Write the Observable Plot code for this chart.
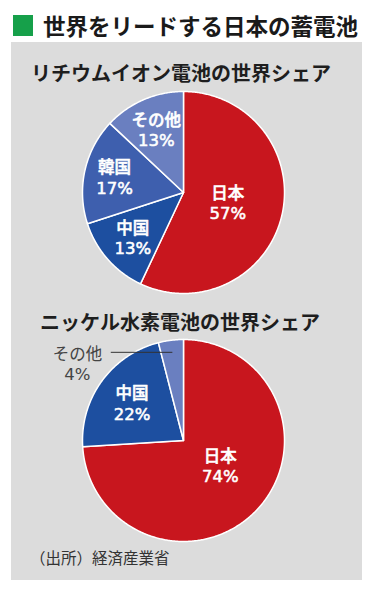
<!DOCTYPE html>
<html><head><meta charset="utf-8">
<script src="https://cdn.jsdelivr.net/npm/d3@7"></script>
<script src="https://cdn.jsdelivr.net/npm/@observablehq/plot@0.6"></script>
<style>
html,body{margin:0;padding:0;background:#fff;}
body{width:375px;height:596px;position:relative;overflow:hidden;font-family:"Noto Sans CJK JP","Noto Sans",sans-serif;}
#sq{position:absolute;left:13px;top:15px;width:20px;height:21px;background:#16a04a;}
#title{position:absolute;left:43px;top:13px;font-size:22.5px;line-height:24px;font-weight:bold;color:#1a1a1a;white-space:nowrap;}
#panel{position:absolute;left:11px;top:42px;width:351px;height:538px;background:#dcdcdc;}
.sub{position:absolute;font-size:20px;line-height:20px;font-weight:bold;color:#1e1e1e;white-space:nowrap;}
#sub1{left:31px;top:63px;}
#sub2{left:40px;top:312px;}
#cap{position:absolute;left:30px;top:548px;font-size:15.5px;line-height:18px;color:#333;white-space:nowrap;}
.pie{position:absolute;left:11px;}
#pie1{top:85px;}
#pie2{top:335px;}
</style></head><body>
<div id="panel"></div>
<div id="sq"></div>
<div id="title">世界をリードする日本の蓄電池</div>
<div class="sub" id="sub1">リチウムイオン電池の世界シェア</div>
<div class="pie" id="pie1"></div>
<div class="sub" id="sub2">ニッケル水素電池の世界シェア</div>
<div class="pie" id="pie2"></div>
<div id="cap">（出所）経済産業省</div>
<script>
// --- data ---
const liCategories = ["日本", "中国", "韓国", "その他"];
const liShares = [57, 13, 17, 13];
const niCategories = ["日本", "中国", "その他"];
const niShares = [74, 22, 4];
const colorDomain = ["日本", "中国", "韓国", "その他"];
const colorRange = ["#c8161e", "#1d4fa0", "#3e5fae", "#6a7fc0"];

const labelFont = '"DejaVu Sans", "Noto Sans CJK JP", sans-serif';

function drawPie(el, cats, vals, cfg) {
  const {W, H, R, cx, cy, labelR, labelTurn = {}, outside} = cfg;
  const arcs = d3.pie().sort(null).value(d => d.v)(cats.map((c, i) => ({c, v: vals[i]})));
  const pts = [];
  const labels = [];
  const ext = [];
  const links = [];
  for (const a of arcs) {
    const c = a.data.c;
    pts.push({c, x: 0, y: 0});
    const n = Math.max(2, Math.ceil((a.endAngle - a.startAngle) / 0.01));
    for (let k = 0; k <= n; k++) {
      const t = a.startAngle + (a.endAngle - a.startAngle) * k / n;
      pts.push({c, x: Math.sin(t), y: Math.cos(t)});
    }
    const m = (a.startAngle + a.endAngle) / 2;
    const text = `${c}\n${a.data.v}%`;
    if (outside && outside[c]) {
      const o = outside[c];
      const px = Math.sin(m) * o.r, py = Math.cos(m) * o.r;
      links.push({x1: o.lx, y1: py, x2: px, y2: py});
      ext.push({x: o.tx, y: o.ty, text});
    } else {
      const r = labelR[c] ?? 0.6;
      const t = m + (labelTurn[c] ?? 0) * Math.PI / 180;
      labels.push({x: Math.sin(t) * r, y: Math.cos(t) * r, text});
    }
  }
  const chart = Plot.plot({
    width: W, height: H, margin: 0,
    style: {background: "transparent", fontFamily: labelFont},
    x: {domain: [-cx / R, (W - cx) / R], axis: null},
    y: {domain: [-(H - cy) / R, cy / R], axis: null},
    color: {domain: colorDomain, range: colorRange},
    marks: [
      Plot.line(pts, {x: "x", y: "y", z: "c", fill: "c", stroke: "#fff", strokeWidth: 1.5, curve: "linear-closed"}),
      Plot.text(labels, {x: "x", y: "y", text: "text", fill: "#fff", stroke: "#fff", strokeWidth: 0.55, fontSize: 16.5, fontWeight: 500, lineHeight: 1.22}),
      Plot.link(links, {x1: "x1", y1: "y1", x2: "x2", y2: "y2", stroke: "#333", strokeWidth: 1}),
      Plot.text(ext, {x: "x", y: "y", text: "text", fill: "#444", fontSize: 16.5, fontWeight: 400, lineHeight: 1.22})
    ]
  });
  document.getElementById(el).appendChild(chart);
}

drawPie("pie1", liCategories, liShares, {
  W: 351, H: 215, R: 101, cx: 172, cy: 107,
  labelR: {"日本": 0.45, "中国": 0.67, "韓国": 0.7, "その他": 0.68}
});
drawPie("pie2", niCategories, niShares, {
  W: 351, H: 215, R: 101, cx: 172, cy: 105,
  labelR: {"日本": 0.44, "中国": 0.63},
  labelTurn: {"日本": -9},
  outside: {"その他": {r: 0.88, lx: -0.72, tx: -1.05, ty: 0.76}}
});
</script>
</body></html>
